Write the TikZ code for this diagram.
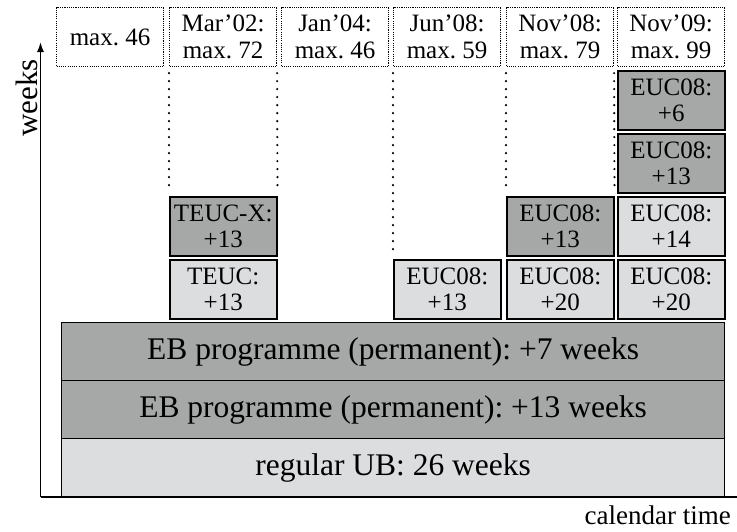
\documentclass[tikz,border=0pt]{standalone}
\usepackage{fontspec}
\setmainfont{Liberation Serif}
\usetikzlibrary{arrows.meta}
\definecolor{darkfill}{HTML}{A5A8A7}
\definecolor{lightfill}{HTML}{DCDDDF}
\begin{document}
\frenchspacing
\begin{tikzpicture}[x=1pt,y=-1pt,
  cell/.style={draw=black, line width=1.5pt, minimum width=107pt, minimum height=59pt,
    inner sep=0pt, anchor=north west, align=center, font=\fontsize{25}{26.5}\selectfont},
  darkcell/.style={cell, fill=darkfill},
  lightcell/.style={cell, fill=lightfill},
  topcell/.style={draw=black, line width=1.1pt, dash pattern=on 1.1pt off 1.1pt,
    minimum width=107pt, minimum height=59pt, inner sep=0pt, anchor=north west,
    align=center, font=\fontsize{25}{26.5}\selectfont},
  bigbox/.style={draw=black, line width=1.3pt, minimum width=663pt, minimum height=58pt,
    inner sep=0pt, anchor=north west, font=\fontsize{31.5}{32}\selectfont},
  guide/.style={line width=2.4pt, line cap=round, dash pattern=on 0pt off 8pt},
  axis/.style={line width=1.5pt}
]
\useasboundingbox (0,0) rectangle (737,531);

% top boxes
\node[topcell] (t1) at (56,7) {max. 46};
\node[topcell] (t2) at (169,7) {Mar'02:\\max. 72};
\node[topcell] (t3) at (281,7) {Jan'04:\\max. 46};
\node[topcell] (t4) at (393,7) {Jun'08:\\max. 59};
\node[topcell] (t5) at (506,7) {Nov'08:\\max. 79};
\node[topcell] (t6) at (617,7) {Nov'09:\\max. 99};

% big boxes
\node[bigbox, fill=darkfill] (eb7) at (61,322) {EB programme (permanent): +7 weeks};
\node[bigbox, fill=darkfill] (eb13) at (61,380) {EB programme (permanent): +13 weeks};
\node[bigbox, fill=lightfill] (ub) at (61,438) {regular UB: 26 weeks};

% column 2
\node[lightcell] (teuc) at (169,259) {TEUC:\\+13};
\node[darkcell] (teucx) at (169,196) {TEUC-X:\\+13};
% column 4
\node[lightcell] (e4) at (393,259) {EUC08:\\+13};
% column 5
\node[lightcell] (e5a) at (506,259) {EUC08:\\+20};
\node[darkcell] (e5b) at (506,196) {EUC08:\\+13};
% column 6
\node[lightcell] (e6a) at (617,259) {EUC08:\\+20};
\node[lightcell] (e6b) at (617,196) {EUC08:\\+14};
\node[darkcell] (e6c) at (617,133) {EUC08:\\+13};
\node[darkcell] (e6d) at (617,70) {EUC08:\\+6};

% dotted guides
\draw[guide] ([yshift=-6pt]t2.south west) -- ([yshift=4pt]teucx.north west);
\draw[guide] ([yshift=-6pt]t2.south east) -- ([yshift=4pt]teucx.north east);
\draw[guide] ([yshift=-6pt]t4.south west) -- ([yshift=4pt]e4.north west);
\draw[guide] ([yshift=-6pt]t5.south west) -- ([yshift=4pt]e5b.north west);
\draw[guide] ([yshift=-6pt]t5.south east) -- ([yshift=4pt]e5b.north east);

% axes
\coordinate (origin) at (40.5,497);
\coordinate (ytop) at (40.5,42);
\coordinate (xend) at (737,497);
\draw[axis, -{Latex[length=10pt,width=7pt]}] (origin) -- (ytop);
\draw[axis] (origin) -- (xend);
\node[rotate=90, font=\fontsize{31}{32}\selectfont] (wk) at (27,98) {weeks};
\node[anchor=base east, inner sep=0pt, font=\fontsize{27}{30}\selectfont] (ct) at (731,524) {calendar time};
\end{tikzpicture}
\end{document}
